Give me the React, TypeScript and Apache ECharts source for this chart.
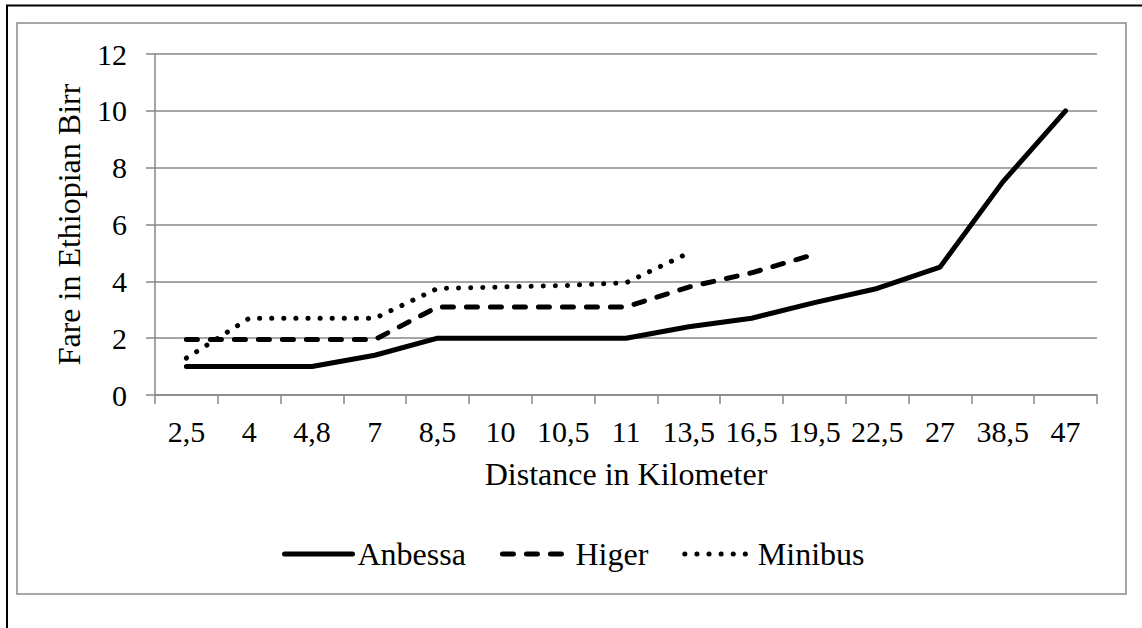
import React, { useEffect, useRef } from "react";
import * as echarts from "echarts";

const categories = ["2,5", "4", "4,8", "7", "8,5", "10", "10,5", "11", "13,5", "16,5", "19,5", "22,5", "27", "38,5", "47"];
const anbessa = [1, 1, 1, 1.4, 2, 2, 2, 2, 2.4, 2.7, 3.25, 3.75, 4.5, 7.5, 10];
const higer = [1.95, 1.95, 1.95, 1.95, 3.1, 3.1, 3.1, 3.1, 3.8, 4.3, 4.95, null, null, null, null];
const minibus = [1.3, 2.7, 2.7, 2.7, 3.75, 3.8, 3.85, 3.95, 5, null, null, null, null, null, null];
const yTicks = { min: 0, max: 12, interval: 2 };

const FONT = "Liberation Serif";
const GREY = "#878787";

export default function App() {
  const ref = useRef<HTMLDivElement>(null);
  useEffect(() => {
    if (!ref.current) return;
    const chart = echarts.init(ref.current, undefined, { renderer: "svg" });
    const lineBase = { color: "#000", width: 5, join: "round" as const, cap: "round" as const };
    chart.setOption({
      animation: false,
      backgroundColor: "#fff",
      textStyle: { fontFamily: FONT, color: "#000" },
      grid: { left: 155, right: 45, top: 54, bottom: 233 },
      graphic: [
        {
          type: "rect",
          shape: { x: 7, y: 5.5, width: 1160, height: 660 },
          style: { fill: "none", stroke: "#000", lineWidth: 2 },
          silent: true,
        },
        {
          type: "rect",
          shape: { x: 17, y: 23, width: 1109, height: 571 },
          style: { fill: "none", stroke: "#8a8a8a", lineWidth: 1.5 },
          silent: true,
        },
      ],
      legend: {
        left: 277,
        top: 533,
        itemWidth: 68,
        itemHeight: 14,
        itemGap: 34,
        itemTextGap: 8,
        itemStyle: { opacity: 0 },
        lineStyle: { width: 5 },
        textStyle: { fontFamily: FONT, fontSize: 32, color: "#000" },
        data: ["Anbessa", "Higer", "Minibus"],
      },
      xAxis: {
        type: "category",
        data: categories,
        boundaryGap: true,
        name: "Distance in Kilometer",
        nameLocation: "middle",
        nameGap: 63,
        nameTextStyle: { fontFamily: FONT, fontSize: 32, color: "#000" },
        axisLine: { show: true, lineStyle: { color: GREY, width: 1.5 } },
        axisTick: { show: true, length: 9, lineStyle: { color: GREY, width: 1.5 } },
        axisLabel: { fontFamily: FONT, fontSize: 30, color: "#000", margin: 21, interval: 0 },
        splitLine: { show: false },
      },
      yAxis: {
        type: "value",
        min: yTicks.min,
        max: yTicks.max,
        interval: yTicks.interval,
        name: "Fare in Ethiopian Birr",
        nameLocation: "middle",
        nameGap: 70,
        nameTextStyle: { fontFamily: FONT, fontSize: 32, color: "#000" },
        axisLine: { show: true, lineStyle: { color: GREY, width: 1.5 } },
        axisTick: { show: true, length: 9, lineStyle: { color: GREY, width: 1.5 } },
        axisLabel: { fontFamily: FONT, fontSize: 30, color: "#000", margin: 28 },
        splitLine: { show: true, lineStyle: { color: GREY, width: 1.5 } },
      },
      series: [
        {
          name: "Anbessa",
          type: "line",
          data: anbessa,
          symbol: "none",
          lineStyle: { ...lineBase, type: "solid" },
          itemStyle: { color: "#000" },
        },
        {
          name: "Higer",
          type: "line",
          data: higer,
          symbol: "none",
          lineStyle: { ...lineBase, type: [11, 13] },
          itemStyle: { color: "#000" },
        },
        {
          name: "Minibus",
          type: "line",
          data: minibus,
          symbol: "none",
          lineStyle: { ...lineBase, type: [0.1, 12] },
          itemStyle: { color: "#000" },
        },
      ],
    });
    return () => chart.dispose();
  }, []);
  return (
    <div
      ref={ref}
      style={{ position: "fixed", left: 0, top: 0, width: 1142, height: 628 }}
    />
  );
}
